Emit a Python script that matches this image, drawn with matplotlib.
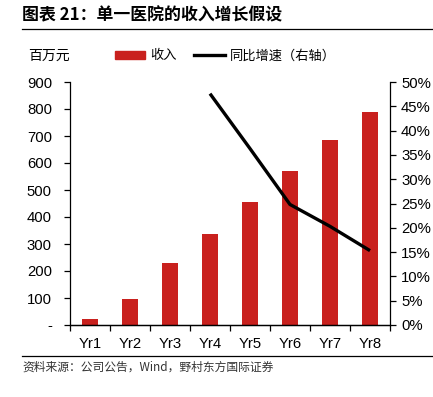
import matplotlib.pyplot as plt
import numpy as np
from matplotlib.lines import Line2D
from matplotlib.patches import Patch

plt.rcParams['font.family'] = ['Liberation Sans', 'Noto Sans CJK SC', 'DejaVu Sans']

years = ["Yr1", "Yr2", "Yr3", "Yr4", "Yr5", "Yr6", "Yr7", "Yr8"]
revenue = [24, 98, 229, 336, 457, 569, 684, 788]
growth_years = ["Yr4", "Yr5", "Yr6", "Yr7", "Yr8"]
growth = [47.6, 36.3, 24.8, 20.3, 15.3]

left_ticks = [0, 100, 200, 300, 400, 500, 600, 700, 800, 900]
left_labels = ["-"] + [str(v) for v in left_ticks[1:]]
right_ticks = [0, 5, 10, 15, 20, 25, 30, 35, 40, 45, 50]

BAR_RED = "#C9211E"
CJK = ['Noto Sans CJK SC', 'DejaVu Sans']

fig = plt.figure(figsize=(4.33, 3.97), dpi=100)
ax = fig.add_axes([70 / 433, 1 - 325 / 397, 320 / 433, 243 / 397])
ax2 = ax.twinx()

x = np.arange(len(years))
ax.bar(x, revenue, width=0.4, color=BAR_RED, zorder=2)
gx = [years.index(y) for y in growth_years]
ax2.plot(gx, growth, color="black", lw=2.4, solid_capstyle="butt", zorder=3)

ax.set_xlim(-0.5, len(years) - 0.5)
ax.set_ylim(0, 900)
ax2.set_ylim(0, 50)

ax.set_yticks(left_ticks)
ax.set_yticklabels(left_labels)
ax2.set_yticks(right_ticks)
ax2.set_yticklabels([f"{v}%" for v in right_ticks])

ax.set_xticks(x)
ax.set_xticklabels(years)
ax.set_xticks(np.arange(-0.5, len(years)), minor=True)
ax.tick_params(axis="x", which="major", length=0, pad=9, labelsize=10.7)
ax.tick_params(axis="x", which="minor", length=4, width=0.9, direction="out")
ax.tick_params(axis="y", length=4, width=0.9, labelsize=10.7, pad=9)
ax2.tick_params(axis="y", length=4, width=0.9, labelsize=10.7, pad=4)

for a in (ax, ax2):
    a.spines["top"].set_visible(False)
    for s in ("left", "right", "bottom"):
        a.spines[s].set_linewidth(0.9)
ax.spines["right"].set_visible(False)
ax2.spines["left"].set_visible(False)

# title and rules
fig.text(22 / 433, 1 - 15 / 397, "图表 21：单一医院的收入增长假设", family=CJK,
         fontsize=12.2, fontweight="bold", va="center", ha="left")
fig.add_artist(Line2D([22 / 433, 1.0], [1 - 29 / 397] * 2, color="black", lw=0.9))
fig.add_artist(Line2D([22 / 433, 1.0], [1 - 356 / 397] * 2, color="black", lw=0.9))
fig.text(22 / 433, 1 - 367 / 397, "资料来源：公司公告，Wind，野村东方国际证券", family=CJK,
         fontsize=8.5, color="#333333", va="center", ha="left")

# unit label and legend
fig.text(28 / 433, 1 - 56 / 397, "百万元", family=CJK, fontsize=10, va="center", ha="left")
handles = [Patch(color=BAR_RED, label="收入"),
           Line2D([0], [0], color="black", lw=2.4, label="同比增速（右轴）")]
fig.legend(handles=handles, loc="center left", bbox_to_anchor=(103 / 433, 1 - 56 / 397),
           ncol=2, frameon=False, prop={"family": CJK, "size": 9.5},
           handlelength=2.3, handleheight=0.55, columnspacing=1.3, handletextpad=0.4)

fig.savefig("out.png", dpi=100)
